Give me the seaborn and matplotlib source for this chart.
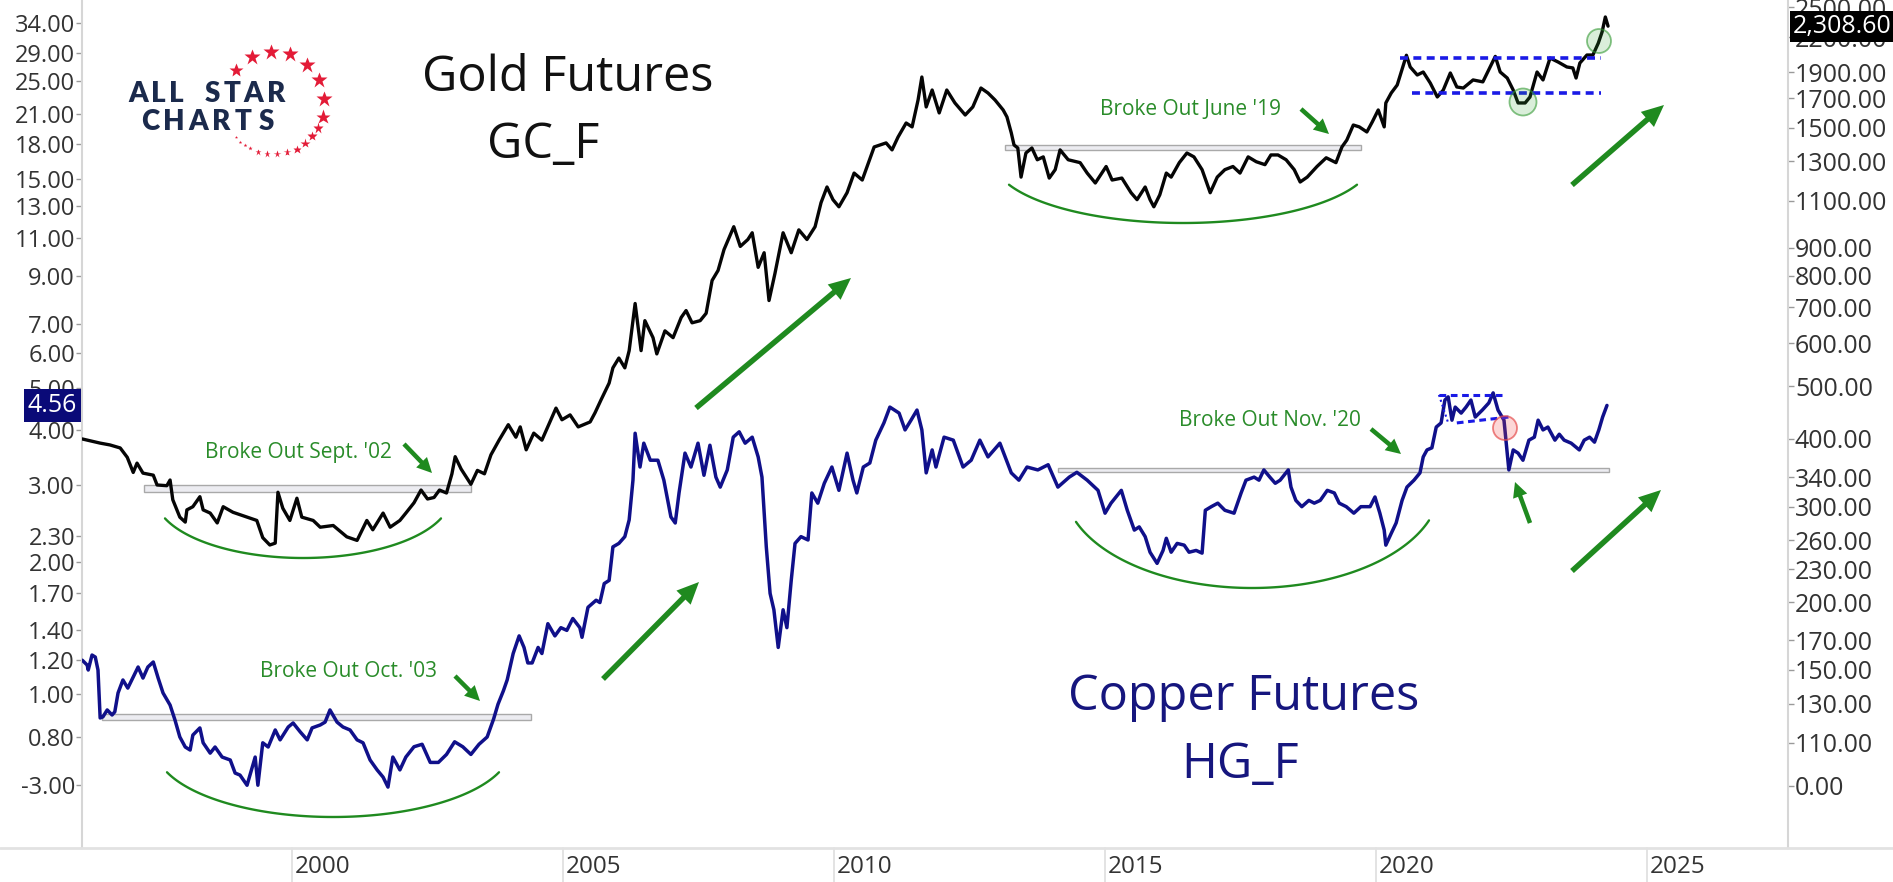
import numpy as np
import pandas as pd
import matplotlib
matplotlib.use("Agg")
import matplotlib.pyplot as plt
import matplotlib.transforms as mtransforms
from matplotlib.patches import Rectangle, Circle
from matplotlib.ticker import FixedLocator, FixedFormatter, NullLocator
import seaborn as sns

# ---------------------------------------------------------------- data
gold_dates = [
    1996.13, 1996.46, 1996.64, 1996.83, 1996.96, 1997.07, 1997.14, 1997.25, 1997.44, 1997.51,
    1997.69, 1997.75, 1997.80, 1997.93, 1998.03, 1998.06, 1998.17, 1998.30, 1998.36, 1998.49,
    1998.62, 1998.73, 1998.91, 1999.17, 1999.35, 1999.46, 1999.59, 1999.69, 1999.74, 1999.83,
    1999.96, 2000.09, 2000.18, 2000.39, 2000.52, 2000.76, 2001.01, 2001.20, 2001.38, 2001.49,
    2001.68, 2001.81, 2001.99,
    2002.10, 2002.25, 2002.38, 2002.50, 2002.62, 2002.72, 2002.85, 2002.95, 2003.01, 2003.12,
    2003.30, 2003.42, 2003.55, 2003.67, 2003.82, 2003.99,
    2004.13, 2004.21, 2004.32, 2004.46, 2004.61, 2004.87, 2004.98, 2005.13, 2005.28, 2005.50,
    2005.59, 2005.70, 2005.85, 2005.92,
    2006.03, 2006.14, 2006.22, 2006.33, 2006.44, 2006.51, 2006.66, 2006.73, 2006.88, 2007.03,
    2007.18, 2007.27, 2007.38, 2007.53, 2007.64, 2007.75, 2007.86, 2007.97,
    2008.15, 2008.27, 2008.41, 2008.49, 2008.60, 2008.71, 2008.80, 2008.91, 2009.06, 2009.21,
    2009.35, 2009.50, 2009.65, 2009.76, 2009.87, 2009.98,
    2010.09, 2010.24, 2010.37, 2010.52, 2010.74, 2010.96, 2011.07, 2011.18, 2011.33, 2011.44,
    2011.55, 2011.62, 2011.70, 2011.81, 2011.94,
    2012.08, 2012.23, 2012.42, 2012.56, 2012.71, 2012.84, 2012.97, 2013.12, 2013.19, 2013.27,
    2013.32, 2013.39, 2013.45, 2013.54, 2013.65, 2013.75, 2013.86, 2013.97,
    2014.08, 2014.17, 2014.32, 2014.54, 2014.67, 2014.82, 2015.02, 2015.13, 2015.31, 2015.48,
    2015.59, 2015.74, 2015.83, 2015.90,
    2016.01, 2016.13, 2016.22, 2016.37, 2016.51, 2016.64, 2016.79, 2016.94, 2017.07, 2017.21,
    2017.36, 2017.49, 2017.64, 2017.79, 2017.95,
    2018.06, 2018.19, 2018.34, 2018.49, 2018.60, 2018.73, 2018.91, 2019.08, 2019.26, 2019.37,
    2019.46, 2019.58, 2019.69, 2019.83, 2019.93,
    2020.04, 2020.15, 2020.18, 2020.28, 2020.39, 2020.56, 2020.63, 2020.76, 2020.87, 2021.00,
    2021.13, 2021.24, 2021.37, 2021.49, 2021.61, 2021.79, 2021.97,
    2022.14, 2022.20, 2022.29, 2022.42, 2022.53, 2022.62, 2022.75, 2022.84, 2022.97, 2023.08,
    2023.21, 2023.36, 2023.52, 2023.63, 2023.69, 2023.76, 2023.89,
    2024.00, 2024.10, 2024.17, 2024.23, 2024.28,
]
gold_prices = [
    400, 393, 390, 385, 370, 347, 361, 346, 343, 329,
    328, 336, 309, 287, 281, 296, 300, 313, 296, 292,
    280, 300, 293, 287, 283, 263, 255, 257, 319, 298,
    283, 311, 287, 283, 275, 277, 264, 260, 283, 272,
    292, 275, 283,
    292, 305, 322, 310, 312, 322, 318, 345, 371, 352,
    330, 350, 345, 374, 398, 425,
    403, 421, 382, 410, 398, 456, 434, 443, 421, 430,
    447, 472, 507, 541,
    564, 541, 582, 711, 582, 661, 615, 574, 633, 615,
    670, 690, 655, 661, 682, 784, 818, 894,
    985, 906, 933, 960, 829, 882, 720, 808, 960, 882,
    972, 933, 985, 1091, 1166, 1105,
    1072, 1138, 1237, 1201, 1382, 1406, 1365, 1441, 1530, 1505,
    1687, 1860, 1638, 1760, 1597,
    1760, 1666, 1583, 1638, 1775, 1738, 1687, 1617, 1570, 1467,
    1394, 1376, 1216, 1347, 1376, 1309, 1325, 1211,
    1255, 1365, 1309, 1293, 1237, 1186, 1272, 1201, 1211, 1138,
    1105, 1166, 1105, 1072,
    1128, 1237, 1216, 1293, 1347, 1325, 1255, 1138, 1216, 1255,
    1272, 1237, 1325, 1298, 1282,
    1336, 1336, 1309, 1255, 1191, 1216, 1272, 1320, 1293, 1382,
    1423, 1517, 1505, 1473, 1537,
    1617, 1505, 1666, 1738, 1798, 2040, 1941, 1876, 1900, 1813,
    1709, 1760, 1892, 1783, 1775, 1837, 1822,
    1974, 2030, 1900, 1852, 1760, 1666, 1666, 1709, 1900, 1837,
    2016, 1982, 1941, 1933, 1852, 1974, 2042,
    2042, 2148, 2252, 2400, 2308.60,
]

copper_dates = [
    1996.13, 1996.22, 1996.24, 1996.31, 1996.37, 1996.42, 1996.46, 1996.51, 1996.59, 1996.68,
    1996.73, 1996.79, 1996.88, 1996.97, 1997.07, 1997.16, 1997.25, 1997.34, 1997.44, 1997.53,
    1997.62, 1997.75, 1997.84, 1997.93, 1998.03, 1998.12, 1998.17, 1998.30, 1998.36, 1998.49,
    1998.58, 1998.71, 1998.86, 1998.95, 1999.04, 1999.17, 1999.32, 1999.37, 1999.46, 1999.56,
    1999.69, 1999.78, 1999.93, 2000.02, 2000.15, 2000.28, 2000.37, 2000.52, 2000.61, 2000.70,
    2000.83, 2000.94, 2001.07, 2001.20, 2001.31, 2001.44, 2001.57, 2001.68, 2001.77, 2001.86,
    2001.99,
    2002.10, 2002.25, 2002.40, 2002.55, 2002.70, 2002.85, 2003.00, 2003.15, 2003.30, 2003.45,
    2003.60, 2003.72, 2003.80, 2003.90, 2003.97,
    2004.08, 2004.19, 2004.28, 2004.35, 2004.43, 2004.54, 2004.61, 2004.72, 2004.85, 2004.96,
    2005.07, 2005.18, 2005.31, 2005.35, 2005.46, 2005.61, 2005.68, 2005.76, 2005.85, 2005.92,
    2006.03, 2006.14, 2006.22, 2006.29, 2006.33, 2006.42, 2006.49, 2006.61, 2006.75, 2006.86,
    2006.99, 2007.07, 2007.14, 2007.25, 2007.36, 2007.49, 2007.60, 2007.71, 2007.82, 2007.90,
    2008.03, 2008.14, 2008.25, 2008.36, 2008.49, 2008.60, 2008.67, 2008.75, 2008.82, 2008.89,
    2008.97, 2009.06, 2009.13, 2009.21, 2009.28, 2009.39, 2009.52, 2009.59, 2009.70, 2009.82,
    2009.96, 2010.09, 2010.24, 2010.35, 2010.42, 2010.54, 2010.66, 2010.77, 2010.92, 2011.03,
    2011.20, 2011.31, 2011.42, 2011.53, 2011.62, 2011.70, 2011.81, 2011.88, 2012.03, 2012.20,
    2012.38, 2012.53, 2012.69, 2012.84, 2013.06, 2013.27, 2013.41, 2013.56, 2013.76, 2013.95,
    2014.13, 2014.34, 2014.48, 2014.67, 2014.87,
    2015.00, 2015.11, 2015.30, 2015.41, 2015.54, 2015.63, 2015.74, 2015.83, 2015.96, 2016.07,
    2016.13, 2016.22, 2016.33, 2016.46, 2016.55, 2016.68, 2016.79, 2016.85, 2016.96, 2017.08,
    2017.21, 2017.38, 2017.51, 2017.60, 2017.75, 2017.84, 2017.93, 2018.04, 2018.14, 2018.23,
    2018.38, 2018.43, 2018.52, 2018.63, 2018.76, 2018.86, 2018.97, 2019.10, 2019.23, 2019.32,
    2019.45, 2019.59, 2019.72, 2019.89, 2019.98, 2020.07, 2020.15, 2020.18, 2020.28, 2020.37,
    2020.48, 2020.57, 2020.70, 2020.81, 2020.87, 2020.94, 2021.03, 2021.11, 2021.20, 2021.27,
    2021.33, 2021.40, 2021.46, 2021.57, 2021.66, 2021.75, 2021.83, 2021.96, 2022.08, 2022.16,
    2022.25, 2022.36, 2022.45, 2022.53, 2022.62, 2022.71, 2022.82, 2022.92, 2022.99, 2023.08,
    2023.17, 2023.30, 2023.38, 2023.47, 2023.60, 2023.75, 2023.84, 2023.94, 2024.03, 2024.11,
    2024.18, 2024.26,
]
copper_prices = [
    1.197, 1.167, 1.137, 1.230, 1.217, 1.137, 0.884, 0.889, 0.922, 0.898,
    0.913, 1.008, 1.079, 1.034, 1.096, 1.155, 1.090, 1.155, 1.186, 1.090,
    1.008, 0.946, 0.875, 0.800, 0.759, 0.747, 0.808, 0.839, 0.776, 0.735,
    0.759, 0.720, 0.709, 0.662, 0.655, 0.621, 0.720, 0.621, 0.776, 0.759,
    0.830, 0.788, 0.843, 0.861, 0.822, 0.788, 0.839, 0.852, 0.865, 0.922,
    0.865, 0.843, 0.830, 0.788, 0.776, 0.709, 0.673, 0.648, 0.615, 0.720,
    0.673,
    0.72, 0.76, 0.77, 0.70, 0.70, 0.73, 0.78, 0.76, 0.73, 0.77,
    0.80, 0.88, 0.95, 1.02, 1.08,
    1.24, 1.36, 1.28, 1.18, 1.18, 1.28, 1.24, 1.45, 1.36, 1.42,
    1.40, 1.49, 1.42, 1.35, 1.58, 1.64, 1.62, 1.79, 1.82, 2.17,
    2.21, 2.29, 2.50, 3.08, 3.94, 3.30, 3.74, 3.42, 3.42, 3.08,
    2.54, 2.46, 2.88, 3.55, 3.30, 3.74, 3.16, 3.70, 3.13, 2.97,
    3.25, 3.86, 3.97, 3.74, 3.86, 3.48, 3.13, 2.17, 1.70, 1.56,
    1.28, 1.56, 1.42, 1.82, 2.21, 2.29, 2.25, 2.88, 2.73, 3.03,
    3.30, 2.92, 3.55, 3.08, 2.88, 3.30, 3.37, 3.80, 4.16, 4.52,
    4.38, 4.01, 4.22, 4.45, 4.01, 3.20, 3.61, 3.30, 3.86, 3.80,
    3.30, 3.42, 3.80, 3.48, 3.74, 3.20, 3.08, 3.30, 3.25, 3.34,
    2.97, 3.13, 3.21, 3.08, 2.92,
    2.59, 2.73, 2.92, 2.63, 2.37, 2.41, 2.29, 2.11, 1.99, 2.13,
    2.27, 2.11, 2.21, 2.19, 2.11, 2.13, 2.10, 2.63, 2.68, 2.73,
    2.63, 2.59, 2.88, 3.08, 3.13, 3.08, 3.25, 3.13, 3.03, 3.08,
    3.25, 2.97, 2.77, 2.68, 2.77, 2.73, 2.77, 2.92, 2.88, 2.73,
    2.68, 2.59, 2.68, 2.68, 2.82, 2.59, 2.37, 2.19, 2.33, 2.46,
    2.77, 2.97, 3.08, 3.20, 3.48, 3.61, 3.65, 4.07, 4.16, 4.69,
    4.77, 4.22, 4.52, 4.38, 4.52, 4.69, 4.29, 4.45, 4.62, 4.87,
    4.45, 4.22, 3.25, 3.61, 3.55, 3.42, 3.80, 3.86, 4.22, 4.01,
    4.07, 3.80, 3.92, 3.80, 3.74, 3.61, 3.80, 3.86, 3.76, 4.01,
    4.29, 4.56,
]

copper_ticks = [34, 29, 25, 21, 18, 15, 13, 11, 9, 7, 6, 5, 4, 3, 2.3, 2, 1.7, 1.4,
                1.2, 1.0, 0.8, 0.622]
copper_tick_labels = ["34.00", "29.00", "25.00", "21.00", "18.00", "15.00", "13.00",
                      "11.00", "9.00", "7.00", "6.00", "5.00", "4.00", "3.00", "2.30",
                      "2.00", "1.70", "1.40", "1.20", "1.00", "0.80", "-3.00"]
gold_ticks = [2500, 2200, 1900, 1700, 1500, 1300, 1100, 900, 800, 700, 600, 500, 400,
              340, 300, 260, 230, 200, 170, 150, 130, 110, 91.7]
gold_tick_labels = ["2500.00", "2200.00", "1900.00", "1700.00", "1500.00", "1300.00",
                    "1100.00", "900.00", "800.00", "700.00", "600.00", "500.00", "400.00",
                    "340.00", "300.00", "260.00", "230.00", "200.00", "170.00", "150.00",
                    "130.00", "110.00", "0.00"]
year_ticks = [2000, 2005, 2010, 2015, 2020, 2025]
year_labels = ["2000", "2005", "2010", "2015", "2020", "2025"]

gold_last = 2308.60
copper_last = 4.56

# gray breakout bands: (start, end, low, high)
gold_bands = [(1997.27, 2003.30, 319, 329), (2013.15, 2019.72, 1365, 1394)]
copper_bands = [(1996.49, 2004.41, 0.875, 0.902), (2014.13, 2024.30, 3.21, 3.28)]

# ---------------------------------------------------------------- style
sns.set_theme(style="white")
plt.rcParams["font.family"] = ["Open Sans", "DejaVu Sans"]

GOLD_C = "#050505"
COPPER_C = "#10108a"
GREEN = "#1f8a1f"
TEXT_GREEN = "#2a8c2a"
AXIS_GRAY = "#d6d6d6"
LABEL_C = "#333333"

W, H = 1893, 882
fig = plt.figure(figsize=(W / 100, H / 100), dpi=100)
fig.patch.set_facecolor("white")

left_px, right_px, bottom_px = 82, 1788, 848
ax = fig.add_axes([left_px / W, (H - bottom_px) / H, (right_px - left_px) / W, bottom_px / H])
axg = ax.twinx()

copper_df = pd.DataFrame({"date": copper_dates, "price": copper_prices})
gold_df = pd.DataFrame({"date": gold_dates, "price": gold_prices})

sns.lineplot(data=copper_df, x="date", y="price", ax=ax, color=COPPER_C,
             linewidth=2.5, estimator=None, sort=False, zorder=3)
sns.lineplot(data=gold_df, x="date", y="price", ax=axg, color=GOLD_C,
             linewidth=2.4, estimator=None, sort=False, zorder=3)

for a in (ax, axg):
    a.set_yscale("log")
    a.set_xlabel("")
    a.set_ylabel("")
    a.set_xlim(1996.125, 2027.60)
    for s in a.spines.values():
        s.set_visible(False)
ax.set_ylim(0.4467, 38.30)
axg.set_ylim(70.43, 2579.5)

ax.spines["left"].set_visible(True)
ax.spines["left"].set_color(AXIS_GRAY)
ax.spines["left"].set_linewidth(1.5)
axg.spines["right"].set_visible(True)
axg.spines["right"].set_color(AXIS_GRAY)
axg.spines["right"].set_linewidth(1.5)

ax.yaxis.set_major_locator(FixedLocator(copper_ticks))
ax.yaxis.set_major_formatter(FixedFormatter(copper_tick_labels))
ax.yaxis.set_minor_locator(NullLocator())
axg.yaxis.set_major_locator(FixedLocator(gold_ticks))
axg.yaxis.set_major_formatter(FixedFormatter(gold_tick_labels))
axg.yaxis.set_minor_locator(NullLocator())
ax.tick_params(axis="y", which="major", left=True, right=False, length=4, width=1,
               color="#9a9a9a", labelsize=17, labelcolor=LABEL_C, pad=1)
axg.tick_params(axis="y", which="major", right=True, left=False, length=4, width=1,
                color="#9a9a9a", labelsize=18, labelcolor=LABEL_C, pad=1)
ax.set_xticks([])
axg.set_xticks([])
ax.grid(False)
axg.grid(False)

# year ticks below the axis, labels to the right of each tick line
tx = mtransforms.blended_transform_factory(ax.transData, ax.transAxes)
tx_lab = mtransforms.offset_copy(tx, fig=fig, x=3, y=0, units="dots")
for yr, lab in zip(year_ticks, year_labels):
    ax.plot([yr, yr], [0, -34 / bottom_px], transform=tx, color="#dedede", lw=1.2,
            clip_on=False)
    ax.text(yr, -19 / bottom_px, lab, transform=tx_lab, ha="left", va="center",
            fontsize=17.5, color=LABEL_C)

# breakout bands
for x0, x1, lo, hi in gold_bands:
    axg.add_patch(Rectangle((x0, lo), x1 - x0, hi - lo, facecolor="#ececf1",
                            edgecolor="#a9a9a9", lw=1.0, zorder=2))
for x0, x1, lo, hi in copper_bands:
    ax.add_patch(Rectangle((x0, lo), x1 - x0, hi - lo, facecolor="#ececf1",
                           edgecolor="#a9a9a9", lw=1.0, zorder=2))

# consolidation ranges (dashed)
dash = (0, (2.2, 1.5))
axg.plot([2020.44, 2024.15], [2016, 2016], color="#1a1ae6", lw=2.6, ls=dash, zorder=4)
axg.plot([2020.66, 2024.15], [1738, 1738], color="#1a1ae6", lw=2.6, ls=dash, zorder=4)
ax.plot([2021.16, 2022.32], [4.82, 4.82], color="#1a1ae6", lw=2.2, ls=dash, zorder=4)
ax.plot([2021.49, 2022.45], [4.16, 4.29], color="#1a1ae6", lw=2.2, ls=dash, zorder=4)
ax.plot([2021.16, 2021.33], [4.82, 4.16], color="#1a1ae6", lw=1.5, ls=(0, (1, 1.5)), zorder=4)

# last-price flags
tg = mtransforms.blended_transform_factory(axg.transAxes, axg.transData)
axg.text(1.003, gold_last, f"{gold_last:,.2f}", transform=tg, ha="left", va="center",
         fontsize=18, color="white", zorder=20, clip_on=False,
         bbox=dict(boxstyle="square,pad=0.12", fc="black", ec="none"))
tc = mtransforms.blended_transform_factory(ax.transAxes, ax.transData)
ax.text(-0.003, copper_last, f"{copper_last:.2f}", transform=tc, ha="right", va="center",
        fontsize=18, color="white", zorder=20, clip_on=False,
        bbox=dict(boxstyle="square,pad=0.15", fc="#0a0a78", ec="none"))

# ---------------------------------------------------------------- overlay (pixel space)
ov = fig.add_axes([0, 0, 1, 1], zorder=10)
ov.set_xlim(0, W)
ov.set_ylim(H, 0)
ov.axis("off")

ov.plot([0, W], [bottom_px, bottom_px], color="#e2e2e2", lw=2.0)

# titles
ov.text(422, 91, "Gold Futures", fontsize=35, color="#111111", ha="left", va="baseline")
ov.text(487, 158, "GC_F", fontsize=35, color="#111111", ha="left", va="baseline")
ov.text(1068, 710, "Copper Futures", fontsize=35, color="#16167e", ha="left", va="baseline")
ov.text(1181, 778, "HG_F", fontsize=35, color="#16167e", ha="left", va="baseline")

# breakout notes
for x, y, s in [(205, 458, "Broke Out Sept. '02"), (260, 677, "Broke Out Oct. '03"),
                (1100, 115, "Broke Out June '19"), (1179, 426, "Broke Out Nov. '20")]:
    ov.text(x, y, s, fontsize=15, color=TEXT_GREEN, ha="left", va="baseline")


def arrow(x0, y0, x1, y1, w, hw, hl):
    ov.arrow(x0, y0, x1 - x0, y1 - y0, width=w, head_width=hw, head_length=hl,
             length_includes_head=True, color=GREEN, lw=0)


arrow(404, 444, 432, 473, 4.5, 15, 15)
arrow(455, 676, 480, 701, 4.5, 15, 15)
arrow(1301, 109, 1329, 134, 4.5, 15, 15)
arrow(1371, 429, 1401, 454, 4.5, 15, 15)
arrow(1530, 523, 1515, 482, 4.5, 15, 15)
arrow(696, 408, 851, 278, 5.5, 20, 22)
arrow(603, 679, 699, 582, 5.5, 20, 22)
arrow(1572, 185, 1664, 105, 5.5, 20, 22)
arrow(1572, 571, 1661, 490, 5.5, 20, 22)


def base_arc(cx, cy, a, b, xl, xr):
    t = np.linspace(np.arccos((xr - cx) / a), np.arccos((xl - cx) / a), 120)
    ov.plot(cx + a * np.cos(t), cy + b * np.sin(t), color=GREEN, lw=1.7)


base_arc(303, 496, 148, 62, 165, 441)
base_arc(333, 747, 178, 70, 167, 499)
base_arc(1183, 159, 190, 64, 1009, 1357)
base_arc(1252, 486, 188, 102, 1076, 1429)

# highlight circles
for cx, cy, r in [(1523, 102, 13.5), (1599, 41, 12)]:
    ov.add_patch(Circle((cx, cy), r, facecolor=(0.2, 0.65, 0.2, 0.18),
                        edgecolor=(0.2, 0.6, 0.2, 0.6), lw=1.3))
ov.add_patch(Circle((1505, 428), 12, facecolor=(0.95, 0.3, 0.3, 0.22),
                    edgecolor=(0.9, 0.3, 0.3, 0.7), lw=1.3))

# logo
NAVY = "#1b2a4c"
logo_font = dict(fontsize=20, fontweight="heavy", family=["Lato", "DejaVu Sans"],
                 color=NAVY, ha="center", va="baseline")
for ch, x in zip("ALLSTAR", [138.5, 158, 176.5, 212.5, 232.5, 253, 276]):
    ov.text(x, 102, ch, **logo_font)
for ch, x in zip("CHARTS", [150, 173.5, 198, 221, 243.5, 266.5]):
    ov.text(x, 130, ch, **logo_font)
stars = [(235.7, 70, 8.5), (251.7, 57.3, 9.5), (270.7, 51.7, 9.5), (290, 54.3, 9.5),
         (306.7, 65, 9.5), (319.3, 80, 9.5), (324.3, 99.3, 9.5), (322.7, 117.3, 9),
         (317.7, 128.3, 6.5), (312.3, 136, 6), (305, 143.3, 5.5), (296.7, 149, 5),
         (287.3, 152.3, 4.6), (277.3, 154, 4.4), (267.3, 154, 4.2), (257.7, 151.7, 3.8),
         (250, 148.3, 2.6), (245, 145, 2.3), (240, 141.7, 2.1), (235.7, 136.7, 1.9)]
for x, y, ms in stars:
    ov.plot(x, y, marker="*", ms=ms * 1.25, color="#e31b37", mec="none")

fig.savefig("out.png", dpi=100, facecolor="white")
